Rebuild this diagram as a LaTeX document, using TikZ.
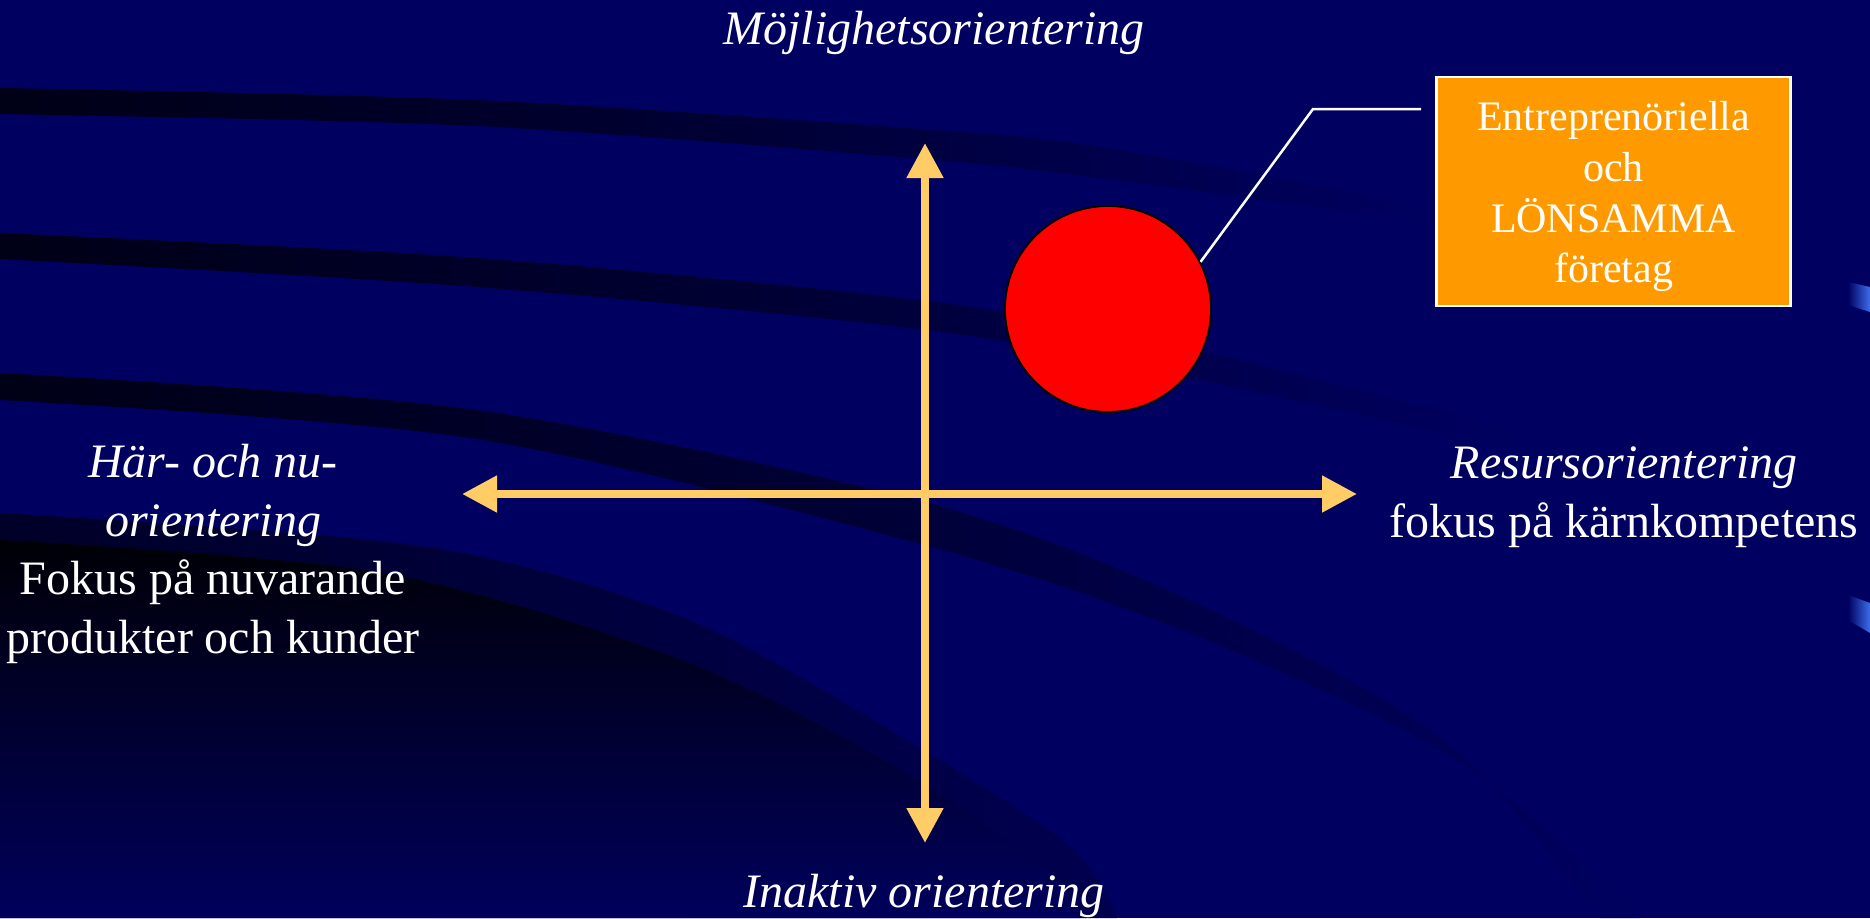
\documentclass[tikz,border=0pt]{standalone}
\usepackage{fontspec}
\setmainfont{Liberation Serif}
\usetikzlibrary{arrows.meta}
\definecolor{bg}{RGB}{0,0,96}
\definecolor{bandc}{RGB}{0,0,22}
\definecolor{outerdark}{RGB}{0,0,40}
\definecolor{innerdark}{RGB}{0,0,6}
\definecolor{innerlow}{RGB}{0,0,92}
\definecolor{axisc}{RGB}{255,204,102}
\definecolor{boxc}{RGB}{255,153,0}
\definecolor{hiblue}{RGB}{60,110,235}
\begin{document}
\begin{tikzpicture}[x=1pt,y=-1pt,
  axis/.style={draw=axisc,line width=8pt,arrows={Triangle[length=35pt,width=35pt]-Triangle[length=35pt,width=35pt]}},
  sidelabel/.style={text=white,font=\fontsize{48}{58.5}\selectfont,align=center,inner sep=0pt,anchor=base},
  boxlabel/.style={draw=white,line width=2.5pt,fill=boxc,text=white,font=\fontsize{42}{50.7}\selectfont,align=center,minimum width=354pt,minimum height=229pt,inner sep=0pt},
  firmdot/.style={circle,fill=red,draw=black,line width=1.8pt,minimum size=206pt,inner sep=0pt},
  callout/.style={draw=white,line width=2.5pt}]
\useasboundingbox (0,0) rectangle (1870,918);
\fill[bg] (0,0) rectangle (1870,918);
% background swooshes
\shade[left color=bandc,right color=bg,middle color=bandc!60!bg]
  plot[smooth] coordinates {(0,88) (477,100) (935,130) (1100,147) (1440,208)}
  -- plot[smooth] coordinates {(1440,224) (1100,178) (935,160) (477,126) (0,114)} -- cycle;
\shade[left color=bandc,right color=bg,middle color=bandc!60!bg]
  plot[smooth] coordinates {(0,233) (477,258) (935,302) (1200,351) (1520,432)}
  -- plot[smooth] coordinates {(1520,450) (1200,380) (935,331) (477,287) (0,259)} -- cycle;
\shade[left color=bandc,right color=bg,middle color=bandc!60!bg]
  plot[smooth] coordinates {(0,373) (477,410) (935,505) (1200,605) (1444,740) (1600,918)}
  -- (1640,918) -- plot[smooth] coordinates {(1640,918) (1460,762) (1200,637) (935,548) (477,439) (0,400)} -- cycle;
\shade[left color=outerdark,right color=bg!70!outerdark]
  plot[smooth] coordinates {(0,513) (428,547) (689,620) (918,747) (1071,847) (1117,918)} -- (0,918) -- cycle;
\shade[top color=innerdark,bottom color=innerlow]
  plot[smooth] coordinates {(0,540) (383,573) (689,663) (918,780) (1056,880) (1080,918)} -- (0,918) -- cycle;
\shade[left color=bg,right color=hiblue] (1848,282) -- (1870,287) -- (1870,312) -- (1848,305) -- cycle;
\shade[left color=bg,right color=hiblue] (1848,595) -- (1870,603) -- (1870,633) -- (1848,620) -- cycle;
% axes
\coordinate (N) at (925,143);
\coordinate (S) at (925,843);
\coordinate (W) at (462,494);
\coordinate (E) at (1357,494);
\draw[axis] (S) -- (N);
\draw[axis] (W) -- (E);
% labels
\node[sidelabel] (top) at (934,44) {\textit{Möjlighetsorientering}};
\node[sidelabel] (bottom) at (924,907) {\textit{Inaktiv orientering}};
\node[sidelabel] (left) at (213,653) {\textit{Här- och nu-}\\\textit{orientering}\\Fokus på nuvarande\\produkter och kunder};
\node[sidelabel] (right) at (1624,537) {\textit{Resursorientering}\\fokus på kärnkompetens};
% firm and callout
\node[firmdot] (firm) at (1108,309) {};
\node[boxlabel] (box) at (1613.5,191.7) {\rule{0pt}{39pt}Entreprenöriella\\och\\LÖNSAMMA\\företag};
\coordinate (c1) at (1421,109);
\coordinate (c2) at (1313,109);
\draw[callout] (c1) -- (c2) -- (firm.27);
\end{tikzpicture}
\end{document}
